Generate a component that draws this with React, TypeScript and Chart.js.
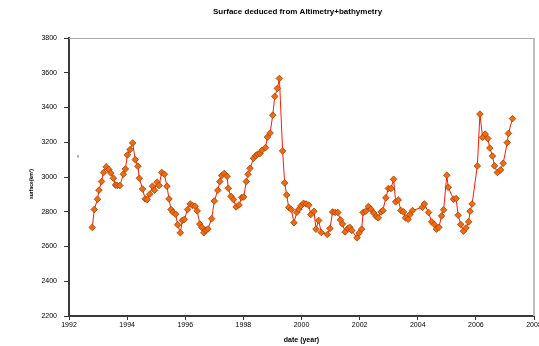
import { useEffect, useRef } from "react";
import { Chart, registerables } from "chart.js";

Chart.register(...registerables);

// Lake surface time series (decimal year, km²)
const years = [
  1992.8, 1992.87, 1992.98, 1993.03, 1993.12, 1993.19, 1993.28, 1993.37, 1993.44, 1993.53,
  1993.6, 1993.66, 1993.75, 1993.87, 1993.94, 1994.01, 1994.1, 1994.19, 1994.28, 1994.37,
  1994.42, 1994.53, 1994.62, 1994.69, 1994.78, 1994.87, 1994.94, 1995.03, 1995.1, 1995.19,
  1995.28, 1995.37, 1995.44, 1995.51, 1995.58, 1995.67, 1995.74, 1995.83, 1995.9, 1995.97,
  1996.08, 1996.17, 1996.25, 1996.34, 1996.41, 1996.5, 1996.57, 1996.64, 1996.71, 1996.78,
  1996.91, 1997.0, 1997.12, 1997.19, 1997.25, 1997.34, 1997.44, 1997.48, 1997.57, 1997.66,
  1997.75, 1997.85, 1997.94, 1998.01, 1998.1, 1998.16, 1998.23, 1998.35, 1998.42, 1998.49,
  1998.57, 1998.64, 1998.76, 1998.83, 1998.92, 1999.01, 1999.08, 1999.17, 1999.24, 1999.35,
  1999.42, 1999.49, 1999.56, 1999.65, 1999.74, 1999.84, 1999.91, 1999.98, 2000.07, 2000.16,
  2000.25, 2000.32, 2000.43, 2000.5, 2000.59, 2000.68, 2000.89, 2000.98, 2001.07, 2001.16,
  2001.25, 2001.34, 2001.41, 2001.5, 2001.6, 2001.66, 2001.73, 2001.91, 2001.98, 2002.07,
  2002.12, 2002.21, 2002.3, 2002.39, 2002.49, 2002.57, 2002.64, 2002.74, 2002.8, 2002.9,
  2002.99, 2003.08, 2003.17, 2003.24, 2003.33, 2003.42, 2003.51, 2003.58, 2003.67, 2003.73,
  2003.82, 2004.16, 2004.23, 2004.37, 2004.48, 2004.57, 2004.64, 2004.73, 2004.82, 2004.89,
  2005.0, 2005.05, 2005.23, 2005.32, 2005.39, 2005.48, 2005.57, 2005.66, 2005.75, 2005.8,
  2005.87, 2006.05, 2006.14, 2006.23, 2006.32, 2006.41, 2006.48, 2006.57, 2006.64, 2006.74,
  2006.85, 2006.94, 2007.08, 2007.12, 2007.26,
];

const surface = [
  2710, 2813, 2872, 2924, 2974, 3026, 3058, 3043, 3023, 2993,
  2954, 2951, 2951, 3016, 3046, 3127, 3158, 3196, 3100, 3062,
  2993, 2931, 2874, 2870, 2901, 2947, 2924, 2970, 2951, 3026,
  3016, 2947, 2874, 2813, 2797, 2786, 2725, 2679, 2750, 2756,
  2813, 2845, 2836, 2832, 2805, 2729, 2710, 2679, 2694, 2701,
  2760, 2862, 2924, 2974, 3008, 3020, 3004, 2935, 2889, 2870,
  2828, 2839, 2882, 2885, 2974, 3016, 3050, 3108, 3123, 3131,
  3135, 3154, 3169, 3230, 3253, 3356, 3464, 3510, 3567, 3150,
  2966, 2897, 2825, 2813, 2737, 2797, 2815, 2834, 2849, 2845,
  2838, 2784, 2803, 2700, 2750, 2681, 2669, 2704, 2799, 2796,
  2796, 2753, 2730, 2684, 2704, 2711, 2692, 2650, 2677, 2700,
  2796, 2803, 2830, 2815, 2792, 2773, 2765, 2799, 2807, 2880,
  2934, 2934, 2987, 2857, 2868, 2807, 2799, 2765, 2757, 2784,
  2807, 2826, 2845, 2796, 2742, 2727, 2700, 2711, 2776, 2811,
  3010, 2941, 2872, 2876, 2780, 2727, 2688, 2707, 2742, 2803,
  2845, 3064, 3362, 3228, 3247, 3221, 3167, 3121, 3064, 3026,
  3041, 3079, 3198, 3251, 3336,
];

// Isolated early measurement drawn as a small dash
const strayYears = [1992.31];
const strayValues = [3119];

const X_MIN = 1992;
const X_MAX = 2008;
const X_STEP = 2;
const Y_MIN = 2200;
const Y_MAX = 3800;
const Y_STEP = 200;

const chartTitle = "Surface deduced from Altimetry+bathymetry";
const xTitle = "date (year)";
const yTitle = "surface(km²)";

const FONT = '"Liberation Sans", Arial, sans-serif';

const framePlugin = {
  id: "plotFrame",
  beforeDatasetsDraw(chart: any) {
    const { ctx, chartArea } = chart;
    const { left, top, right, bottom } = chartArea;
    ctx.save();
    ctx.strokeStyle = "#ababab";
    ctx.lineWidth = 1;
    ctx.beginPath();
    ctx.moveTo(left, top + 0.5);
    ctx.lineTo(right, top + 0.5);
    ctx.stroke();
    ctx.lineWidth = 2;
    ctx.strokeStyle = "#bdbdbd";
    ctx.beginPath();
    ctx.moveTo(right, top);
    ctx.lineTo(right, bottom);
    ctx.stroke();
    ctx.restore();
  },
};

const titlesPlugin = {
  id: "titles",
  afterDraw(chart: any) {
    const { ctx, chartArea } = chart;
    ctx.save();
    ctx.fillStyle = "#000";
    ctx.textAlign = "center";
    ctx.textBaseline = "middle";
    ctx.font = `bold 8px ${FONT}`;
    ctx.fillText(chartTitle, (chartArea.left + chartArea.right) / 2 - 4, 12);
    ctx.font = `bold 5px ${FONT}`;
    ctx.translate(32, (chartArea.top + chartArea.bottom) / 2 + 7);
    ctx.rotate(-Math.PI / 2);
    ctx.fillText(yTitle, 0, 0);
    ctx.restore();
  },
};

export default function App() {
  const canvasRef = useRef<HTMLCanvasElement | null>(null);

  useEffect(() => {
    const canvas = canvasRef.current;
    if (!canvas) return;

    const mainPoints = years.map((x, i) => ({ x, y: surface[i] }));
    const strayPoints = strayYears.map((x, i) => ({ x, y: strayValues[i] }));

    const chart = new Chart(canvas, {
      type: "scatter",
      data: {
        datasets: [
          {
            data: mainPoints,
            showLine: true,
            borderColor: "#ff1a00",
            borderWidth: 1,
            pointStyle: "rectRot",
            pointRadius: 3.3,
            pointBackgroundColor: "#f26a0a",
            pointBorderColor: "#a3400c",
            pointBorderWidth: 0.8,
            tension: 0,
          },
          {
            data: strayPoints,
            showLine: false,
            pointStyle: "line",
            pointRotation: 90,
            pointRadius: 1.2,
            pointBorderColor: "#555",
            pointBorderWidth: 1,
          },
        ],
      },
      options: {
        responsive: false,
        animation: false,
        events: [],
        layout: { padding: { top: 38, right: 3, left: 0, bottom: 0 } },
        plugins: {
          legend: { display: false },
          title: { display: false },
          tooltip: { enabled: false },
        },
        scales: {
          x: {
            type: "linear",
            min: X_MIN,
            max: X_MAX,
            afterFit: (scale: any) => {
              scale.height = 30;
              scale.paddingRight = 0;
              scale.paddingLeft = 0;
            },
            ticks: {
              stepSize: X_STEP,
              color: "#000",
              padding: 1,
              maxRotation: 0,
              font: { family: FONT, size: 7 },
              callback: (v: any) => String(v),
            },
            grid: {
              drawOnChartArea: false,
              drawTicks: true,
              tickLength: 4,
              color: "#333",
              lineWidth: 1,
            },
            border: { color: "#3a3a3a", width: 2 },
            title: {
              display: true,
              text: xTitle,
              color: "#000",
              font: { family: FONT, size: 7, weight: "bold" },
              padding: { top: 0, bottom: 2 },
            },
          },
          y: {
            type: "linear",
            min: Y_MIN,
            max: Y_MAX,
            afterFit: (scale: any) => {
              scale.width = 69;
            },
            ticks: {
              stepSize: Y_STEP,
              color: "#000",
              padding: 7,
              font: { family: FONT, size: 7 },
              callback: (v: any) => String(v),
            },
            grid: {
              drawOnChartArea: false,
              drawTicks: true,
              tickLength: 5,
              color: "#333",
              lineWidth: 1,
            },
            border: { color: "#3a3a3a", width: 2 },
          },
        },
      },
      plugins: [framePlugin, titlesPlugin],
    });

    return () => chart.destroy();
  }, []);

  return (
    <div
      style={{
        position: "fixed",
        left: 0,
        top: 0,
        width: 539,
        height: 346,
        overflow: "hidden",
        background: "#fff",
      }}
    >
      <canvas ref={canvasRef} width={539} height={346} style={{ display: "block" }} />
    </div>
  );
}
